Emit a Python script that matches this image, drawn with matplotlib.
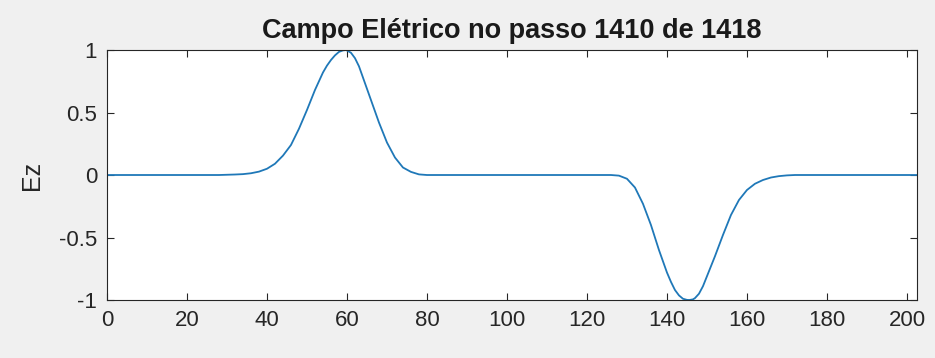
import matplotlib
matplotlib.use('Agg')
import matplotlib.pyplot as plt

# Ez values (zero outside the two pulses)
x_left = [0, 10, 20, 28, 30, 32, 34, 36, 38, 40, 42, 44, 46, 48, 50, 52, 54, 55, 56, 57, 58, 59, 59.8,
          61, 62, 63, 64, 66, 68, 70, 72, 74, 76, 78, 80]
ez_left = [0, 0, 0, 0, 0.002, 0.004, 0.007, 0.014, 0.027, 0.05, 0.09, 0.155, 0.24, 0.37,
           0.52, 0.68, 0.82, 0.875, 0.92, 0.957, 0.985, 0.997, 1.0,
           0.978, 0.935, 0.87, 0.78, 0.60, 0.42, 0.26, 0.14, 0.06, 0.025, 0.005, 0]

x_right = [90, 100, 110, 120, 126, 128, 130, 132, 134, 136, 138, 140, 141, 142, 143, 144, 145, 145.6,
           146.5, 147, 148, 149, 150, 152, 154, 156, 158, 160, 162, 164, 166, 168, 170, 172, 180, 190, 202.5]
ez_right = [0, 0, 0, 0, 0, -0.005, -0.03, -0.1, -0.23, -0.40, -0.6, -0.78, -0.855, -0.92, -0.963,
            -0.99, -0.999, -1.0,
            -0.995, -0.985, -0.95, -0.89, -0.81, -0.65, -0.48, -0.32, -0.2, -0.12, -0.07, -0.04,
            -0.02, -0.009, -0.003, 0, 0, 0, 0]

x_all = x_left + x_right
ez_all = ez_left + ez_right

plt.rcParams['font.family'] = ['Liberation Sans', 'DejaVu Sans']

fig = plt.figure(figsize=(9.35, 3.58), dpi=100, facecolor='#f0f0f0')
ax = fig.add_axes([0.1144, 0.162, 0.8663, 0.6983])
ax.plot(x_all, ez_all, color='#1f78b8', lw=1.3)

ax.set_xlim(0, 202.5)
ax.set_ylim(-1, 1)
ax.set_xticks(range(0, 201, 20))
ax.set_yticks([-1, -0.5, 0, 0.5, 1])
ax.set_yticklabels(['-1', '-0.5', '0', '0.5', '1'])

ax.tick_params(direction='in', length=5, width=0.8, top=True, right=True,
               labelsize=16, labelcolor='#262626', color='#262626', pad=7)
for s in ax.spines.values():
    s.set_color('#262626')
    s.set_linewidth(0.8)

ax.set_ylabel('Ez', fontsize=18, color='#262626', labelpad=11)
ax.set_title('Campo Elétrico no passo 1410 de 1418', fontsize=19.5,
             fontweight='bold', color='#1a1a1a', pad=9)

fig.savefig('out.png', dpi=100, facecolor=fig.get_facecolor())
